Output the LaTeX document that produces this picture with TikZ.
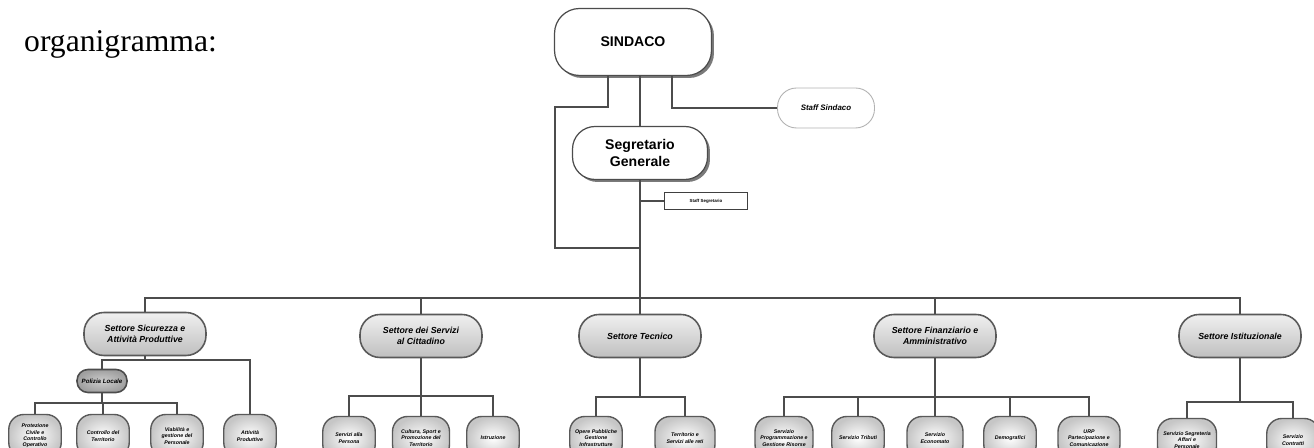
\documentclass[tikz,border=0pt]{standalone}
\usepackage{fontspec}
\setmainfont{Liberation Serif}
\setsansfont{Liberation Sans}
\usetikzlibrary{positioning, shadows}

\begin{document}
\begin{tikzpicture}[
  x=0.02cm, y=-0.02cm,
  conn/.style={draw=black!70, line width=1pt},
  capo/.style={draw=black!70, line width=0.7pt, rounded corners=0.5cm, fill=white, align=center,
    font=\sffamily\bfseries\fontsize{8}{10}\selectfont,
    drop shadow={shadow xshift=0.05cm, shadow yshift=-0.05cm, opacity=0.8, fill=black!65}},
  staff/.style={draw=black!30, line width=0.5pt, rounded corners=0.38cm, fill=white,
    minimum width=1.94cm, minimum height=0.8cm, font=\sffamily\bfseries\itshape\fontsize{4.5}{5}\selectfont},
  staffbox/.style={draw=black!75, line width=0.8pt, fill=white, minimum width=1.66cm, minimum height=0.34cm,
    font=\sffamily\bfseries\fontsize{2.5}{3}\selectfont},
  settore/.style={draw=black!65, line width=0.9pt, rounded corners=0.4cm, top color=gray!12, bottom color=gray!50,
    align=center, minimum width=2.44cm, minimum height=0.86cm, inner sep=1pt,
    font=\sffamily\bfseries\itshape\fontsize{5}{6}\selectfont},
  polizia/.style={draw=black!70, line width=0.9pt, rounded corners=0.22cm, inner color=gray!40, outer color=gray!75,
    minimum width=1cm, minimum height=0.46cm, inner sep=1pt, font=\sffamily\bfseries\itshape\fontsize{3.5}{4}\selectfont},
  ufficio/.style={draw=black!65, line width=0.8pt, rounded corners=0.3cm, inner color=white, outer color=gray!45,
    align=center, minimum width=1.05cm, minimum height=0.86cm, inner sep=1.5pt,
    font=\sffamily\bfseries\itshape\fontsize{3}{3.6}\selectfont}
]
\path[use as bounding box] (0,0) rectangle (1314,448);

\node[anchor=base west, font=\fontsize{18}{20}\selectfont] (titolo) at (18,52) {organigramma:};

% vertice
\node[capo, minimum width=3.14cm, minimum height=1.34cm] (sindaco) at (633,42) {SINDACO};
\node[staff] (staffsind) at (826,108) {Staff Sindaco};
\node[capo, minimum width=2.7cm, minimum height=1.06cm, rounded corners=0.45cm] (segr) at (640,153) {Segretario\\Generale};
\node[staffbox] (staffsegr) at (706,201) {Staff Segretario};

\coordinate (gomito) at (555,107);
\coordinate (nodo) at (640,248);
\coordinate (bus) at (640,298);

\draw[conn] ([xshift=-0.5cm]sindaco.south) |- (gomito) |- (nodo);
\draw[conn] ([xshift=0.78cm]sindaco.south) |- (staffsind.west);
\draw[conn] (segr.north) -- (segr.north |- sindaco.south);
\draw[conn] (segr.south) -- (bus);
\draw[conn] (segr.south |- staffsegr) -- (staffsegr.west);

% settori
\node[settore] (sic) at (145,334) {Settore Sicurezza e\\Attività Produttive};
\node[settore] (serv) at (421,336) {Settore dei Servizi\\al Cittadino};
\node[settore] (tec) at (640,336) {Settore Tecnico};
\node[settore] (fin) at (935,336) {Settore Finanziario e\\Amministrativo};
\node[settore] (ist) at (1240,336) {Settore Istituzionale};

\draw[conn] (sic.north) |- (ist.north |- bus) -- (ist.north);
\foreach \s in {serv,tec,fin}
  \draw[conn] (\s.north) -- (\s.north |- bus);

% Sicurezza block
\coordinate (sicbus) at (145,360);
\coordinate (polbus) at (102,403);
\node[polizia] (pol) at (102,381) {Polizia Locale};
\node[ufficio] (prot) at (35,436) {Protezione\\Civile e\\Controllo\\Operativo};
\node[ufficio] (terr) at (103,436) {Controllo del\\Territorio};
\node[ufficio] (viab) at (177,436) {Viabilità e\\gestione del\\Personale};
\node[ufficio] (attp) at (250,436) {Attività\\Produttive};
\draw[conn] (sic.south) -- (sicbus);
\draw[conn] (pol.north) |- (attp.north |- sicbus) -- (attp.north);
\draw[conn] (pol.south) -- (polbus);
\draw[conn] (prot.north) |- (viab.north |- polbus) -- (viab.north);
\draw[conn] (terr.north) -- (terr.north |- polbus);

% Servizi block
\coordinate (servbus) at (421,396);
\node[ufficio] (pers) at (349,438) {Servizi alla\\Persona};
\node[ufficio, minimum width=1.14cm] (prom) at (421,438) {Cultura, Sport e\\Promozione del\\Territorio};
\node[ufficio] (istr) at (493,438) {Istruzione};
\draw[conn] (serv.south) -- (servbus);
\draw[conn] (pers.north) |- (istr.north |- servbus) -- (istr.north);
\draw[conn] (prom.north) -- (servbus);

% Tecnico block
\coordinate (tecbus) at (640,397);
\node[ufficio] (opere) at (596,438) {Opere Pubbliche\\Gestione\\Infrastrutture};
\node[ufficio, minimum width=1.2cm] (reti) at (685,438) {Territorio e\\Servizi alle reti};
\draw[conn] (tec.south) -- (tecbus);
\draw[conn] (opere.north) |- (reti.north |- tecbus) -- (reti.north);

% Finanziario block
\coordinate (finbus) at (935,397);
\node[ufficio, minimum width=1.16cm] (progr) at (784,438) {Servizio\\Programmazione e\\Gestione Risorse};
\node[ufficio] (trib) at (858,438) {Servizio Tributi};
\node[ufficio, minimum width=1.12cm] (econ) at (935,438) {Servizio\\Economato};
\node[ufficio] (demo) at (1010,438) {Demografici};
\node[ufficio, minimum width=1.24cm] (urp) at (1089,438) {URP\\Partecipazione e\\Comunicazione};
\draw[conn] (fin.south) -- (finbus);
\draw[conn] (progr.north) |- (urp.north |- finbus) -- (urp.north);
\foreach \u in {trib,econ,demo}
  \draw[conn] (\u.north) -- (\u.north |- finbus);

% Istituzionale block
\coordinate (istbus) at (1240,402);
\node[ufficio, minimum width=1.18cm] (segrt) at (1187,440) {Servizio Segreteria\\Affari e\\Personale};
\node[ufficio] (contr) at (1293,440) {Servizio\\Contratti};
\draw[conn] (ist.south) -- (istbus);
\draw[conn] (segrt.north) |- (contr.north |- istbus) -- (contr.north);

\end{tikzpicture}
\end{document}
